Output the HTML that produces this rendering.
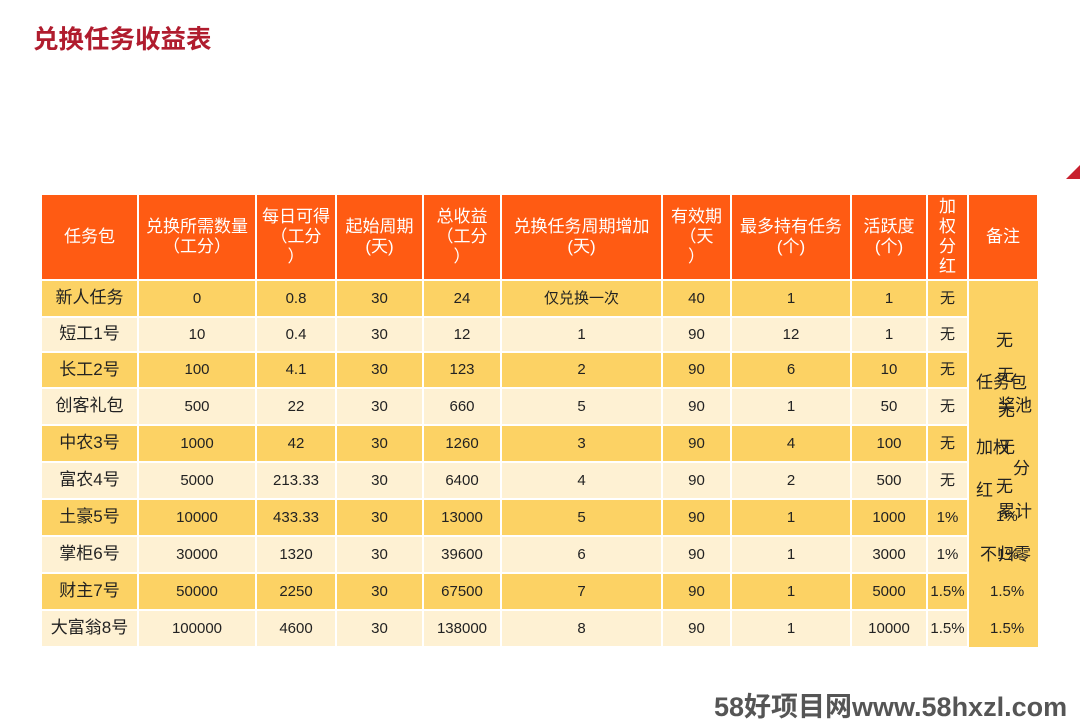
<!DOCTYPE html>
<html><head><meta charset="utf-8"><style>
body{margin:0;width:1080px;height:717px;background:#fff;position:relative;overflow:hidden;font-family:"Liberation Sans","Noto Sans CJK SC",sans-serif}
.c{position:absolute;display:flex;align-items:center;justify-content:center;text-align:center;box-sizing:border-box;font-size:15px;color:#222;line-height:1.2}
.h{background:#FF5B13;color:#fff;font-size:17px;line-height:20px}
.a{background:#FCD264}
.b{background:#FEF1D3}
.t{position:absolute;font-size:17px;color:#222}
</style></head><body>
<div style="position:absolute;left:33px;top:19px;font-size:25.5px;font-weight:bold;color:#B01C2E;font-family:'Noto Sans CJK SC',sans-serif">兑换任务收益表</div>
<div style="position:absolute;left:1066px;top:165px;width:0;height:0;border-left:14px solid transparent;border-bottom:14px solid #C8202E"></div>
<div id="t"></div>
<div class="c a" style="left:969px;top:281px;width:69px;height:366px"></div>
<div class="t" style="left:996px;top:326px">无</div>
<div class="t" style="left:997px;top:361px">无</div>
<div class="t" style="left:976px;top:368px">任务包</div>
<div class="t" style="left:998px;top:391px">奖池</div>
<div class="t" style="left:998px;top:396px">无</div>
<div class="t" style="left:976px;top:433px">加权</div>
<div class="t" style="left:998px;top:433px">无</div>
<div class="t" style="left:1013px;top:454px">分</div>
<div class="t" style="left:976px;top:476px">红</div>
<div class="t" style="left:996px;top:472px">无</div>
<div class="t" style="left:998px;top:497px">累计</div>
<div class="t" style="left:996px;top:508px;font-size:15px">1%</div>
<div class="t" style="left:980px;top:540px">不归零</div>
<div class="t" style="left:997px;top:546px;font-size:15px">1%</div>
<div class="t" style="left:990px;top:583px;font-size:15px">1.5%</div>
<div class="t" style="left:990px;top:620px;font-size:15px">1.5%</div>
<div style="position:absolute;left:714px;top:685px;font-size:27px;font-weight:bold;color:#555;">58好项目网www.58hxzl.com</div>
<script>
var X=[41,138,256,336,423,501,662,731,851,927,968,1038];
var H=["任务包","兑换所需数量<br>（工分）","每日可得<br>（工分<br>）","起始周期<br>(天)","总收益<br>（工分<br>）","兑换任务周期增加<br>(天)","有效期<br>（天<br>）","最多持有任务<br>(个)","活跃度<br>(个)","加<br>权<br>分<br>红","备注"];
var R=[["新人任务","0","0.8","30","24","仅兑换一次","40","1","1","无"],
["短工1号","10","0.4","30","12","1","90","12","1","无"],
["长工2号","100","4.1","30","123","2","90","6","10","无"],
["创客礼包","500","22","30","660","5","90","1","50","无"],
["中农3号","1000","42","30","1260","3","90","4","100","无"],
["富农4号","5000","213.33","30","6400","4","90","2","500","无"],
["土豪5号","10000","433.33","30","13000","5","90","1","1000","1%"],
["掌柜6号","30000","1320","30","39600","6","90","1","3000","1%"],
["财主7号","50000","2250","30","67500","7","90","1","5000","1.5%"],
["大富翁8号","100000","4600","30","138000","8","90","1","10000","1.5%"]];
var Y=[280,317,352,388,425,462,499,536,573,610,647];
var s="";
for(var i=0;i<11;i++){s+='<div class="c h" style="left:'+(X[i]+1)+'px;top:195px;width:'+(X[i+1]-X[i]-2)+'px;height:84px">'+H[i]+'</div>';}
for(var r=0;r<10;r++)for(var i=0;i<10;i++){
var fs=(i==0?17:15);
s+='<div class="c '+(r%2?'b':'a')+'" style="left:'+(X[i]+1)+'px;top:'+(Y[r]+1)+'px;width:'+(X[i+1]-X[i]-2)+'px;height:'+(Y[r+1]-Y[r]-2)+'px;font-size:'+fs+'px">'+R[r][i]+'</div>';}
document.getElementById("t").innerHTML=s;
</script>
</body></html>
